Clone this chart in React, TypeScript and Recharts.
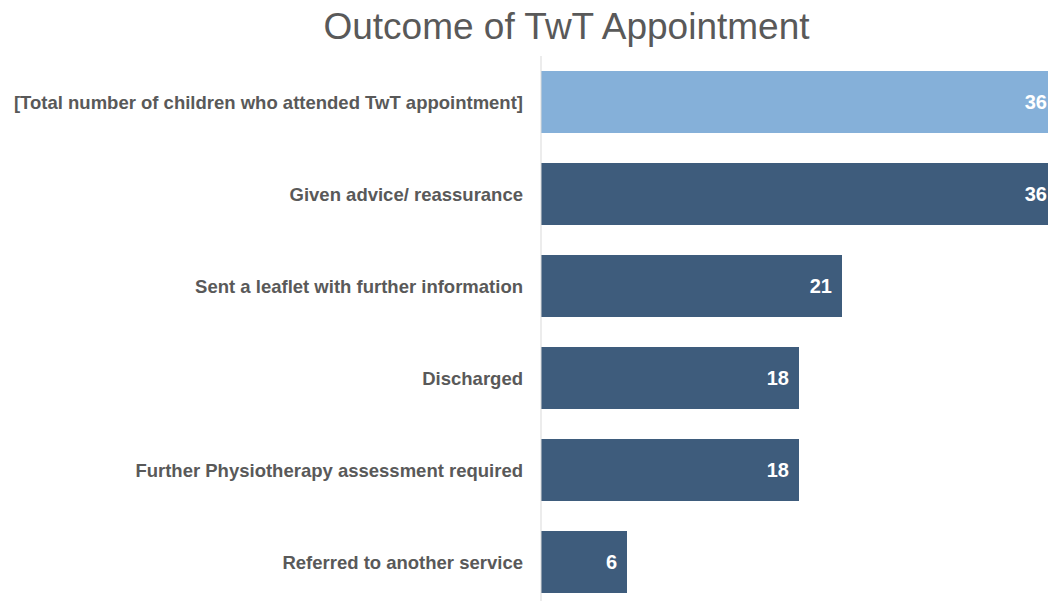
import { BarChart, Bar, XAxis, YAxis, LabelList, Cell } from 'recharts'

const categories = [
  '[Total number of children who attended TwT appointment]',
  'Given advice/ reassurance',
  'Sent a leaflet with further information',
  'Discharged',
  'Further Physiotherapy assessment required',
  'Referred to another service',
]
const counts = [36, 36, 21, 18, 18, 6]

const data = categories.map((name, i) => ({ name, value: counts[i] }))

export default function App() {
  return (
    <div
      style={{
        position: 'absolute',
        left: 0,
        top: 0,
        width: 1048,
        height: 601,
        overflow: 'hidden',
        background: '#fff',
        fontFamily: '"Liberation Sans", Arial, sans-serif',
      }}
    >
      <div
        style={{
          position: 'absolute',
          left: 0,
          width: 1133,
          top: 6,
          textAlign: 'center',
          fontSize: 37,
          color: '#595959',
          lineHeight: '42px',
        }}
      >
        Outcome of TwT Appointment
      </div>
      <div style={{ position: 'absolute', left: 0, top: 0 }}>
        <BarChart
          width={1060}
          height={610}
          data={data}
          layout="vertical"
          margin={{ top: 56, right: 3, bottom: 2, left: 0 }}
          barCategoryGap={15}
        >
          <XAxis type="number" domain={[0, 36]} hide />
          <YAxis
            type="category"
            dataKey="name"
            width={541}
            tickLine={false}
            tickSize={6}
            tickMargin={12}
            axisLine={{ stroke: '#d9d9d9' }}
            tick={{ fontSize: 18.5, fontWeight: 'bold', fill: '#595959' }}
            interval={0}
          />
          <Bar dataKey="value" isAnimationActive={false}>
            {data.map((d, i) => (
              <Cell key={d.name} fill={i === 0 ? '#85b0d9' : '#3e5c7c'} />
            ))}
            <LabelList
              dataKey="value"
              position="insideRight"
              offset={10}
              fill="#fff"
              fontSize={20}
              fontWeight="bold"
            />
          </Bar>
        </BarChart>
      </div>
    </div>
  )
}
